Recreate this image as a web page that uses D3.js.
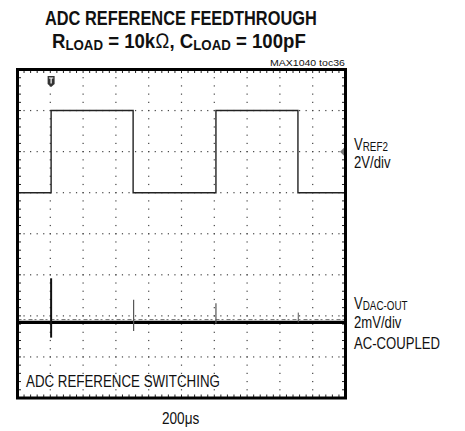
<!DOCTYPE html>
<html>
<head>
<meta charset="utf-8">
<script src="https://cdn.jsdelivr.net/npm/d3@7"></script>
<style>
body { margin: 0; background: #fff; }
text { font-family: "Liberation Sans", Arial, sans-serif; fill: #111; }
</style>
</head>
<body>
<div id="chart"></div>
<script>
// scope settings
var timePerDiv = 200;   // us
var xDivs = 10;
var yDivs = 8;

// VREF2 trace (2V/div), step points
var vrefT = [0, 205, 705, 1210, 1710, 2000];
var vrefV = [0, 4, 0, 4, 0, 0];

// VDAC-OUT trace (2mV/div, AC coupled), glitches
var dacT = [0, 2000];
var dacV = [0, 0];
var spikeT = [205, 708, 1210, 1712];
var spikeHi = [2.15, 1.1, 0.93, 0.48];
var spikeLo = [-0.74, -0.42, -0.05, 0];
var spikeW = [2, 1.2, 1.2, 1];

var width = 465, height = 431;
var frame = { x0: 17.5, x1: 345.5, y0: 69.5, y1: 398 };

var svg = d3.select('#chart').append('svg')
  .attr('width', width).attr('height', height);

var x = d3.scaleLinear().domain([0, timePerDiv * xDivs]).range([frame.x0, frame.x1]);
var yDiv = d3.scaleLinear().domain([0, yDivs]).range([frame.y0, frame.y1]);
var y1 = d3.scaleLinear().domain([6, -10]).range([frame.y0, frame.y1]);
var y2 = d3.scaleLinear().domain([12.32, -3.68]).range([frame.y0, frame.y1]);

// grid dots
var g = svg.append('g');
var minorX = d3.range(0, xDivs * 5 + 1).map(function(i) { return i * timePerDiv / 5; });
var minorY = d3.range(0, yDivs * 5 + 1).map(function(i) { return i / 5; });
var i;
for (i = 1; i < yDivs; i += 1) {
  g.selectAll(null).data(minorX.slice(1, -1)).enter().append('rect')
    .attr('x', function(d) { return x(d) - 0.6; })
    .attr('y', yDiv(i) - 0.6)
    .attr('width', 1.2).attr('height', 1.2)
    .attr('fill', '#444');
}
for (i = 1; i < xDivs; i += 1) {
  g.selectAll(null).data(minorY.slice(1, -1)).enter().append('rect')
    .attr('x', x(i * timePerDiv) - 0.6)
    .attr('y', function(d) { return yDiv(d) - 0.6; })
    .attr('width', 1.2).attr('height', 1.2)
    .attr('fill', '#444');
}

// border ticks
var ticks = svg.append('g').attr('stroke', '#222').attr('stroke-width', 1);
minorX.slice(1, -1).forEach(function(d) {
  ticks.append('line').attr('x1', x(d)).attr('x2', x(d)).attr('y1', frame.y0).attr('y2', frame.y0 + 3.5);
  ticks.append('line').attr('x1', x(d)).attr('x2', x(d)).attr('y1', frame.y1).attr('y2', frame.y1 - 3.5);
});
minorY.slice(1, -1).forEach(function(d) {
  ticks.append('line').attr('y1', yDiv(d)).attr('y2', yDiv(d)).attr('x1', frame.x0).attr('x2', frame.x0 + 3.5);
  ticks.append('line').attr('y1', yDiv(d)).attr('y2', yDiv(d)).attr('x1', frame.x1).attr('x2', frame.x1 - 3.5);
});

// VREF2 trace
var stepLine = d3.line()
  .x(function(d) { return x(d[0]); })
  .y(function(d) { return y1(d[1]); })
  .curve(d3.curveStepAfter);
svg.append('path')
  .attr('d', stepLine(d3.zip(vrefT, vrefV)))
  .attr('fill', 'none').attr('stroke', '#222').attr('stroke-width', 1.4);

// VDAC-OUT trace
var dacLine = d3.line()
  .x(function(d) { return x(d[0]); })
  .y(function(d) { return y2(d[1]); });
svg.append('path')
  .attr('d', dacLine(d3.zip(dacT, dacV.map(function(v) { return v + 0.14; }))))
  .attr('fill', 'none').attr('stroke', '#777').attr('stroke-width', 1)
  .attr('stroke-dasharray', '4,2,2,3');
svg.append('path')
  .attr('d', dacLine(d3.zip(dacT, dacV)))
  .attr('fill', 'none').attr('stroke', '#000').attr('stroke-width', 3.2);
svg.selectAll('.spike').data(spikeT).enter().append('line')
  .attr('class', 'spike')
  .attr('x1', function(d) { return x(d); })
  .attr('x2', function(d) { return x(d); })
  .attr('y1', function(d, k) { return y2(spikeHi[k]); })
  .attr('y2', function(d, k) { return y2(spikeLo[k]); })
  .attr('stroke', function(d, k) { return k === 0 ? '#111' : '#555'; })
  .attr('stroke-width', function(d, k) { return spikeW[k]; });

// frame
svg.append('rect')
  .attr('x', frame.x0).attr('y', frame.y0)
  .attr('width', frame.x1 - frame.x0).attr('height', frame.y1 - frame.y0)
  .attr('fill', 'none').attr('stroke', '#000').attr('stroke-width', 3);

// trigger marker
var tx = x(vrefT[1]);
svg.append('path')
  .attr('d', 'M' + (tx - 3.5) + ',76 h7 v8 l-3.5,3 l-3.5,-3 z')
  .attr('fill', '#333');
svg.append('path')
  .attr('d', 'M' + (tx - 2.2) + ',78 h4.4 M' + tx + ',78 v5.5')
  .attr('stroke', '#fff').attr('stroke-width', 1.2);

// channel 1 marker on right
var my = y1(2);
svg.append('path')
  .attr('d', 'M' + (frame.x1 - 1.5) + ',' + (my - 4) + ' l-4,4 l4,4 z')
  .attr('fill', '#777');

// squeeze a text horizontally to a target width, keeping its left edge
function fit(t, targetW) {
  var b = t.node().getBBox();
  var s = targetW / b.width;
  t.attr('transform', 'translate(' + b.x + ',0) scale(' + s + ',1) translate(' + (-b.x) + ',0)');
  return t;
}
function squeeze(t, s) {
  var x0 = +t.attr('x');
  t.attr('transform', 'translate(' + x0 + ',0) scale(' + s + ',1) translate(' + (-x0) + ',0)');
  return t;
}

// titles
fit(svg.append('text').attr('x', 45).attr('y', 25)
  .attr('font-size', 21).attr('font-weight', 'bold')
  .text('ADC REFERENCE FEEDTHROUGH'), 272);
var t2 = svg.append('text').attr('x', 52).attr('y', 48)
  .attr('font-size', 21).attr('font-weight', 'bold');
t2.append('tspan').text('R');
t2.append('tspan').attr('font-size', 15).attr('dy', 2).text('LOAD');
t2.append('tspan').attr('dy', -2).text(' = 10k');
t2.append('tspan').attr('font-weight', 'normal').text('\u2126');
t2.append('tspan').text(', C');
t2.append('tspan').attr('font-size', 15).attr('dy', 2).text('LOAD');
t2.append('tspan').attr('dy', -2).text(' = 100pF');
fit(t2, 254);

fit(svg.append('text').attr('x', 270).attr('y', 66)
  .attr('font-size', 9.5).attr('fill', '#333')
  .text('MAX1040 toc36'), 75);

// channel labels
function label(xp, yp, main, sub, size) {
  var t = svg.append('text').attr('x', xp).attr('y', yp).attr('font-size', size);
  t.append('tspan').text(main);
  if (sub) t.append('tspan').attr('font-size', size * 0.75).attr('dy', 1.5).text(sub);
  return squeeze(t, 0.82);
}
label(354, 150, 'V', 'REF2', 16);
label(354, 168, '2V/div', null, 16);
label(354, 309, 'V', 'DAC-OUT', 16);
label(354, 328, '2mV/div', null, 16);
label(354, 349, 'AC-COUPLED', null, 16);

fit(svg.append('text').attr('x', 26).attr('y', 387)
  .attr('font-size', 17)
  .text('ADC REFERENCE SWITCHING'), 194);

squeeze(svg.append('text').attr('x', 162).attr('y', 424)
  .attr('font-size', 16)
  .text('200\u03bcs'), 0.85);
</script>
</body>
</html>
